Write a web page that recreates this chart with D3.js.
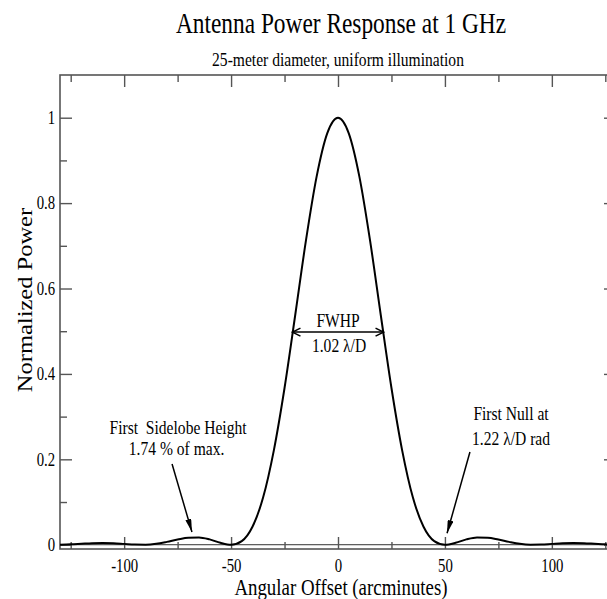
<!DOCTYPE html>
<html>
<head>
<meta charset="utf-8">
<script src="https://cdn.jsdelivr.net/npm/d3@7"></script>
<style>
  body { margin: 0; background: #fff; }
  svg { display: block; font-family: "Liberation Serif", "Times New Roman", serif; }
  .pre { white-space: pre; }
</style>
</head>
<body>
<script>
//angular offset in arcminutes, every 5'
var offsets = [-130, -125, -120, -115, -110, -105, -100, -95, -90, -85, -80, -75, -70, -65, -60, -55, -50, -45, -40, -35, -30, -25, -20, -15, -10, -5,
               0, 5, 10, 15, 20, 25, 30, 35, 40, 45, 50, 55, 60, 65, 70, 75, 80, 85, 90, 95, 100, 105, 110, 115, 120, 125, 130];
//normalized power at each offset
var power = [0.0001, 0.0009, 0.0022, 0.0035, 0.0040, 0.0036, 0.0020, 0.0003, 0.0001, 0.0021, 0.0067, 0.0122, 0.0166, 0.0171, 0.0125, 0.0046, 0.0000,
             0.0085, 0.042, 0.111, 0.221, 0.367, 0.538, 0.712, 0.862, 0.964,
             1.000, 0.964, 0.862, 0.712, 0.538, 0.367, 0.221, 0.111, 0.042, 0.0085,
             0.0000, 0.0046, 0.0125, 0.0171, 0.0166, 0.0122, 0.0067, 0.0021, 0.0001, 0.0003, 0.0020, 0.0036, 0.0040, 0.0035, 0.0022, 0.0009, 0.0001];

//tick labels
var xTickLabels = [-100, -50, 0, 50, 100];
var xMinorTicks = [-125, -75, -25, 25, 75, 125];
var yTickLabels = [0, 0.2, 0.4, 0.6, 0.8, 1];
var yMinorTicks = [0.1, 0.3, 0.5, 0.7, 0.9];

var width = 607,
    height = 599;

//the original lettering is narrow Times, so squeeze every text sideways
var squeeze = 0.82;

var svg = d3.select("body")
    .append("svg")
    .attr("width", width)
    .attr("height", height);

//plot area (right edge runs off the picture like the original)
var plotLeft = 60, plotTop = 75, plotRight = 616, plotBottom = 549;

var x = d3.scaleLinear().domain([-130, 130]).range([plotLeft, plotRight]);
var y = d3.scaleLinear().domain([-0.01, 1.1]).range([plotBottom, plotTop]);

//put a squeezed text at (px, py)
function label(parent, px, py, str, size, vertical){
    var g = parent.append("g")
        .attr("transform", "translate(" + px + "," + py + ")" +
              (vertical ? " rotate(-90) scale(1," + squeeze + ")" : " scale(" + squeeze + ",1)"));
    return g.append("text")
        .attr("text-anchor", "middle")
        .style("font-size", size + "px")
        .text(str);
}

//titles
label(svg, 341, 33, "Antenna Power Response at 1 GHz", 28.5);
label(svg, 338, 66, "25-meter diameter, uniform illumination", 19);

//zero line
svg.append("line")
    .attr("x1", plotLeft).attr("x2", plotRight)
    .attr("y1", y(0)).attr("y2", y(0))
    .attr("stroke", "#333")
    .attr("stroke-width", 1);

//frame
var frame = svg.append("g").attr("class", "frame");

frame.append("rect")
    .attr("x", plotLeft).attr("y", plotTop)
    .attr("width", plotRight - plotLeft).attr("height", plotBottom - plotTop)
    .attr("fill", "none")
    .attr("stroke", "#555")
    .attr("stroke-width", 1.6);

function styleAxis(g){
    g.select(".domain").remove();
    g.attr("font-family", null).attr("font-size", null);
    g.selectAll(".tick line").attr("stroke", "#555").attr("stroke-width", 1.4);
    g.selectAll(".tick text")
        .attr("fill", "#000")
        .attr("transform", "scale(" + squeeze + ",1)")
        .style("font-size", "18px");
}

//bottom axis, ticks pointing in
frame.append("g")
    .attr("transform", "translate(0," + plotBottom + ")")
    .call(d3.axisBottom(x).tickValues(xTickLabels).tickSize(-12).tickPadding(10).tickFormat(function(d){ return String(d); }))
    .call(styleAxis);
frame.append("g")
    .attr("transform", "translate(0," + plotBottom + ")")
    .call(d3.axisBottom(x).tickValues(xMinorTicks).tickSize(-7).tickFormat(""))
    .call(styleAxis);

//top axis
frame.append("g")
    .attr("transform", "translate(0," + plotTop + ")")
    .call(d3.axisTop(x).tickValues(xTickLabels).tickSize(-12).tickFormat(""))
    .call(styleAxis);
frame.append("g")
    .attr("transform", "translate(0," + plotTop + ")")
    .call(d3.axisTop(x).tickValues(xMinorTicks).tickSize(-7).tickFormat(""))
    .call(styleAxis);

//left axis
frame.append("g")
    .attr("transform", "translate(" + plotLeft + ",0)")
    .call(d3.axisLeft(y).tickValues(yTickLabels).tickSize(-12).tickPadding(6).tickFormat(function(d){ return String(d); }))
    .call(styleAxis);
frame.append("g")
    .attr("transform", "translate(" + plotLeft + ",0)")
    .call(d3.axisLeft(y).tickValues(yMinorTicks).tickSize(-7).tickFormat(""))
    .call(styleAxis);

//right axis
frame.append("g")
    .attr("transform", "translate(" + plotRight + ",0)")
    .call(d3.axisRight(y).tickValues(yTickLabels).tickSize(-12).tickFormat(""))
    .call(styleAxis);
frame.append("g")
    .attr("transform", "translate(" + plotRight + ",0)")
    .call(d3.axisRight(y).tickValues(yMinorTicks).tickSize(-7).tickFormat(""))
    .call(styleAxis);

//axis titles
label(svg, 341, 595, "Angular Offset (arcminutes)", 23);
label(svg, 32, 300, "Normalized Power", 24.5, true);

//power curve
var line = d3.line()
    .x(function(d, i){ return x(offsets[i]); })
    .y(function(d){ return y(d); })
    .curve(d3.curveMonotoneX);

svg.append("path")
    .datum(power)
    .attr("fill", "none")
    .attr("stroke", "#000")
    .attr("stroke-width", 2)
    .attr("d", line);

//arrow heads
var defs = svg.append("defs");
defs.append("marker")
    .attr("id", "solid")
    .attr("viewBox", "0 0 13 6")
    .attr("refX", 13).attr("refY", 3)
    .attr("markerWidth", 13).attr("markerHeight", 6)
    .attr("markerUnits", "userSpaceOnUse")
    .attr("orient", "auto")
    .append("path")
    .attr("d", "M0,0L13,3L0,6Z")
    .attr("fill", "#000");
defs.append("marker")
    .attr("id", "open")
    .attr("viewBox", "0 0 10 10")
    .attr("refX", 9).attr("refY", 5)
    .attr("markerWidth", 10).attr("markerHeight", 10)
    .attr("markerUnits", "userSpaceOnUse")
    .attr("orient", "auto-start-reverse")
    .append("path")
    .attr("d", "M1,1L9,5L1,9")
    .attr("fill", "none")
    .attr("stroke", "#000")
    .attr("stroke-width", 1.5);

//FWHP annotation
svg.append("line")
    .attr("x1", x(-21.3)).attr("x2", x(21.3))
    .attr("y1", y(0.498)).attr("y2", y(0.498))
    .attr("stroke", "#000").attr("stroke-width", 1.5)
    .attr("marker-start", "url(#open)")
    .attr("marker-end", "url(#open)");

var note = svg.append("g");

label(note, x(0), y(0.51), "FWHP", 19);
label(note, x(0.5), y(0.451), "1.02 λ/D", 19);

//sidelobe annotation
label(note, x(-74.8), y(0.259), "First  Sidelobe Height", 19).attr("class", "pre");
label(note, x(-75.5), y(0.210), "1.74 % of max.", 19);
svg.append("line")
    .attr("x1", x(-77.6)).attr("y1", y(0.189))
    .attr("x2", x(-68.3)).attr("y2", y(0.030))
    .attr("stroke", "#000").attr("stroke-width", 1.5)
    .attr("marker-end", "url(#solid)");

//first null annotation
label(note, x(80.9), y(0.292), "First Null at", 19);
label(note, x(80.9), y(0.234), "1.22 λ/D rad", 19);
svg.append("line")
    .attr("x1", x(61.7)).attr("y1", y(0.217))
    .attr("x2", x(51.0)).attr("y2", y(0.027))
    .attr("stroke", "#000").attr("stroke-width", 1.5)
    .attr("marker-end", "url(#solid)");
</script>
</body>
</html>
